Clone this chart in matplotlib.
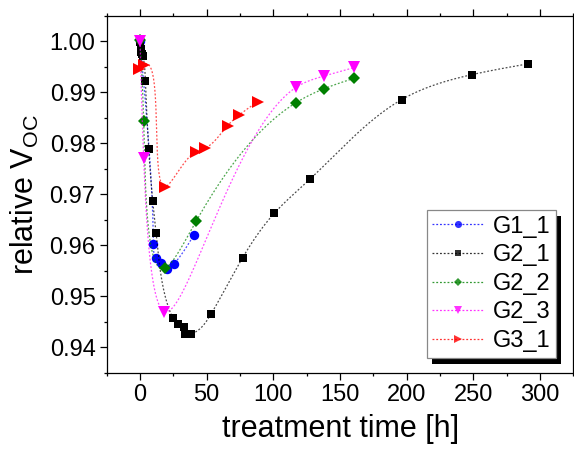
import numpy as np
import matplotlib
matplotlib.use('Agg')
import matplotlib.pyplot as plt
from matplotlib.ticker import MultipleLocator, FormatStrFormatter
from matplotlib.patches import Rectangle

plt.rcParams['font.family'] = 'Liberation Sans'
plt.rcParams['mathtext.fontset'] = 'custom'
plt.rcParams['mathtext.rm'] = 'Liberation Sans'

# data
g1_1_x = [0, 10, 12, 16, 20.2, 25.4, 40.3]
g1_1_y = [1.000, 0.9602, 0.9575, 0.9566, 0.9553, 0.9563, 0.9620]

g2_1_x = [0, 0.5, 1, 1.5, 2, 4, 6.5, 9.5, 12, 24.5, 28.7, 33.2, 34, 38.2, 53.2, 77, 100.7, 127.5, 196.2, 249, 290.8]
g2_1_y = [0.9998, 0.9985, 0.9980, 0.9975, 0.9971, 0.9923, 0.9789, 0.9687, 0.9624, 0.9458, 0.9445,
          0.9439, 0.9426, 0.9426, 0.9465, 0.9576, 0.9663, 0.9730, 0.9886, 0.9935, 0.9956]

g2_2_x = [0, 2.7, 18.7, 42, 117, 137.7, 160.8]
g2_2_y = [1.0002, 0.9843, 0.9555, 0.9647, 0.9880, 0.9907, 0.9928]

g2_3_x = [0, 2.7, 18.2, 117, 137.7, 160.8]
g2_3_y = [1.000, 0.9772, 0.9470, 0.9910, 0.9932, 0.9949]

g3_1_x = [-0.5, 2.7, 19, 42, 49, 65.7, 74.5, 88.2]
g3_1_y = [0.9946, 0.9954, 0.9715, 0.9784, 0.9791, 0.9835, 0.9856, 0.9882]

series = [
    ('G1_1', g1_1_x, g1_1_y, '#0000ff', 'o', 6.8),
    ('G2_1', g2_1_x, g2_1_y, '#000000', 's', 6.0),
    ('G2_2', g2_2_x, g2_2_y, '#008000', 'D', 5.8),
    ('G2_3', g2_3_x, g2_3_y, '#ff00ff', 'v', 8.0),
    ('G3_1', g3_1_x, g3_1_y, '#ff0000', '>', 8.0),
]


def spline_curve(x, y, sx=1.333, sy=5093.0, num=800, power=0.9):
    # parametric natural cubic spline, parameter = chord length**power in pixel space
    px = np.asarray(x, float) * sx
    py = np.asarray(y, float) * sy
    t = np.concatenate([[0], np.cumsum(np.hypot(np.diff(px), np.diff(py)) ** power)])
    n = len(t)
    h = np.diff(t)

    def nat(v):
        A = np.zeros((n, n))
        b = np.zeros(n)
        A[0, 0] = A[-1, -1] = 1
        for i in range(1, n - 1):
            A[i, i - 1] = h[i - 1]
            A[i, i] = 2 * (h[i - 1] + h[i])
            A[i, i + 1] = h[i]
            b[i] = 6 * ((v[i + 1] - v[i]) / h[i] - (v[i] - v[i - 1]) / h[i - 1])
        M = np.linalg.solve(A, b)
        tt = np.linspace(t[0], t[-1], num)
        idx = np.clip(np.searchsorted(t, tt) - 1, 0, n - 2)
        hh = h[idx]
        a = (t[idx + 1] - tt) / hh
        bb = (tt - t[idx]) / hh
        return a * v[idx] + bb * v[idx + 1] + ((a ** 3 - a) * M[idx] + (bb ** 3 - bb) * M[idx + 1]) * hh ** 2 / 6

    return nat(px) / sx, nat(py) / sy


fig = plt.figure(figsize=(5.74, 4.53), dpi=100)
ax = fig.add_axes([0.1859, 0.1773, 0.8132, 0.7874])

handles = []
for name, x, y, c, m, ms in series:
    cx, cy = spline_curve(x, y)
    ax.plot(cx, cy, linestyle=(0, (1.5, 1.5)), color=c, linewidth=0.9, alpha=0.7)
    ax.plot(x, y, linestyle='none', marker=m, color=c, markersize=ms, markeredgewidth=0)
    h, = ax.plot([], [], linestyle=(0, (1.5, 1.5)), color=c, linewidth=0.9, marker=m,
                 markersize=ms * 0.75, markeredgewidth=0, label=name)
    handles.append(h)

ax.set_xlim(-25, 325)
ax.set_ylim(0.935, 1.005)
ax.xaxis.set_major_locator(MultipleLocator(50))
ax.xaxis.set_minor_locator(MultipleLocator(25))
ax.yaxis.set_major_locator(MultipleLocator(0.01))
ax.yaxis.set_minor_locator(MultipleLocator(0.005))
ax.yaxis.set_major_formatter(FormatStrFormatter('%.2f'))
ax.tick_params(which='both', direction='out', top=True, right=True, labelsize=17, width=0.9, pad=3)
ax.tick_params(which='major', length=5)
ax.tick_params(which='minor', length=2.5)
for s in ax.spines.values():
    s.set_linewidth(0.9)

ax.set_xlabel('treatment time [h]', fontsize=22, labelpad=6)
ax.set_ylabel(r'relative V$_{\mathregular{OC}}$', fontsize=22, labelpad=6)

leg = ax.legend(handles=handles, loc='lower right', bbox_to_anchor=(0.9625, 0.0412),
                borderaxespad=0, fontsize=17, frameon=True, fancybox=False,
                edgecolor='#888888', framealpha=1, borderpad=0.25, labelspacing=0.28,
                handlelength=2.2, handletextpad=0.34)
leg.get_frame().set_linewidth(0.9)
for line in leg.get_lines():
    line.set_alpha(0.8)

# black drop shadow behind the legend box
fig.canvas.draw()
bb = leg.get_window_extent().transformed(ax.transAxes.inverted())
dx = 5.5 / ax.bbox.width
dy = 6.5 / ax.bbox.height
ax.add_patch(Rectangle((bb.x0 + dx, bb.y0 - dy), bb.width, bb.height, transform=ax.transAxes,
                       facecolor='black', edgecolor='none', zorder=4.9, clip_on=False))

fig.savefig('out.png', dpi=100)
